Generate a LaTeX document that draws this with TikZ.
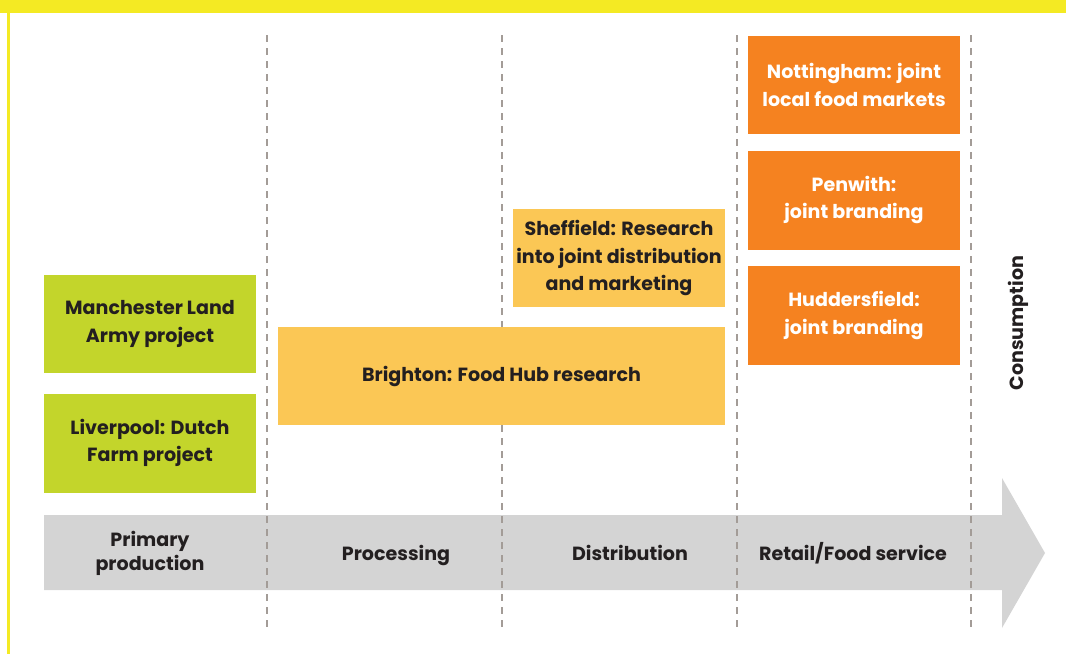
\documentclass[tikz,border=0pt]{standalone}
\usepackage{fontspec}
\setmainfont{Poppins}
\usepackage{xcolor}
\usetikzlibrary{positioning}

\definecolor{bannerYellow}{HTML}{F4EA23}
\definecolor{limeGreen}{HTML}{C3D52B}
\definecolor{paleOrange}{HTML}{FBC755}
\definecolor{deepOrange}{HTML}{F58220}
\definecolor{bandGray}{HTML}{D4D4D4}
\definecolor{dashGray}{HTML}{A39C97}
\definecolor{inkDark}{HTML}{231F20}

\begin{document}
\begin{tikzpicture}[x=0.75pt, y=-0.75pt,
	font=\fontsize{14.3}{20.5}\selectfont\bfseries, text=inkDark,
	project/.style={minimum width=159pt, minimum height=74pt, align=center, inner sep=0pt},
	producer/.style={project, fill=limeGreen},
	research/.style={project, fill=paleOrange},
	branding/.style={project, fill=deepOrange, text=white},
	stage/.style={align=center, inner sep=0pt},
	divider/.style={dashGray, line width=1.6pt, dash pattern=on 5.25pt off 4.5pt}]
	\useasboundingbox (0,0) rectangle (1066,654);
	% frame
	\fill[bannerYellow] (0,0) rectangle (1066,13);
	\fill[bannerYellow] (7,13) rectangle (10,654);
	% supply chain arrow
	\fill[bandGray] (44,515) -- (1002,515) -- (1002,478) -- (1045,553)
		-- (1002,628) -- (1002,590) -- (44,590) -- cycle;
	% stage dividers
	\foreach \x [count=\i] in {267,502,737,971}
		\draw[divider] (\x,35) coordinate (top\i) -- (\x,628) coordinate (bot\i);
	% stages
	\node[stage, font=\fontsize{14.3}{18}\selectfont\bfseries] (primary) at (150,553) {Primary\\production};
	\node[stage, anchor=base] (processing) at (396,560) {Processing};
	\node[stage, anchor=base] (distribution) at (630,560) {Distribution};
	\node[stage, anchor=base] (retail) at (853,560) {Retail/Food service};
	\node[stage, rotate=90] (consumption) at (1018,323) {Consumption};
	% projects
	\node[producer] (manchester) at (150,324) {Manchester Land\\Army project};
	\node[producer, below=15pt of manchester] (liverpool) {Liverpool: Dutch\\Farm project};
	\node[research, minimum width=335.25pt] (brighton) at (501.5,376) {Brighton: Food Hub research};
	\node[research] (sheffield) at (619,258) {Sheffield: Research\\into joint distribution\\and marketing};
	\node[branding] (nottingham) at (854,85) {Nottingham: joint\\local food markets};
	\node[branding, below=12pt of nottingham] (penwith) {Penwith:\\joint branding};
	\node[branding, below=12pt of penwith] (huddersfield) {Huddersfield:\\joint branding};
\end{tikzpicture}
\end{document}
